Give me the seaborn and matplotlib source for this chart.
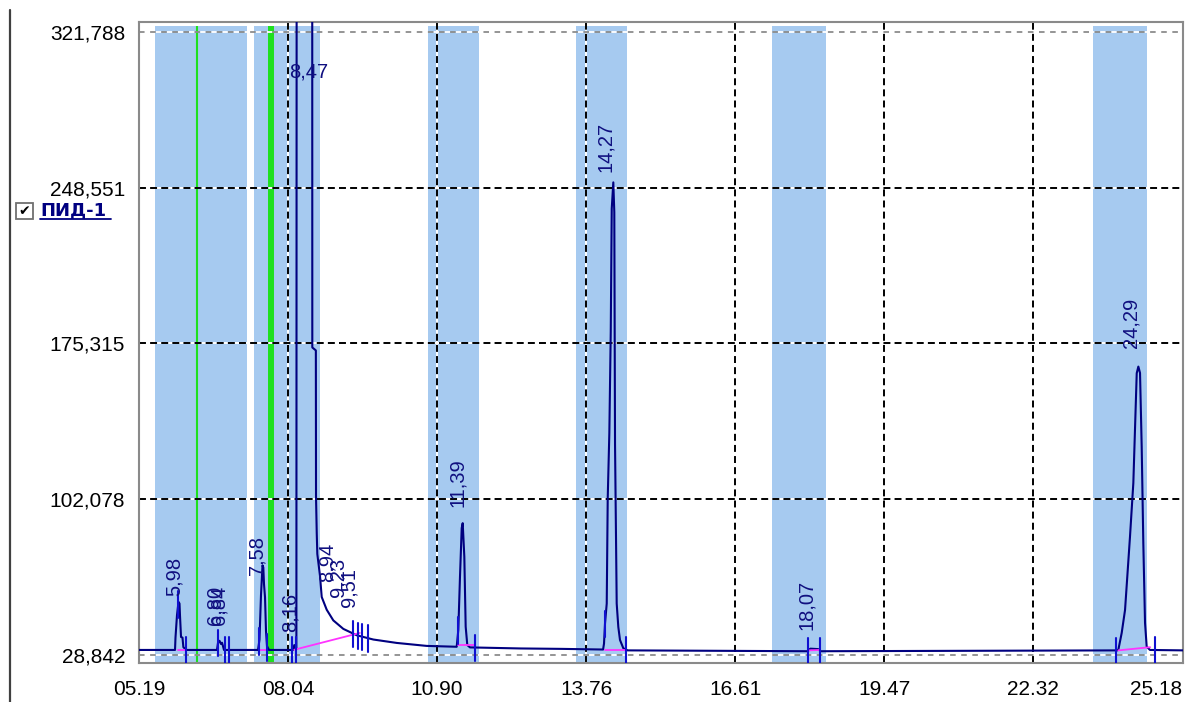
import numpy as np
import pandas as pd
import matplotlib
matplotlib.use("Agg")
import matplotlib.pyplot as plt
from matplotlib.lines import Line2D
from matplotlib.patches import Rectangle
import seaborn as sns

# chromatogram trace (retention time, signal)
trace_time = [5.19, 5.88, 5.889, 5.918, 5.947, 5.966, 5.976, 5.995, 6.023, 6.04, 6.071, 6.10,
              6.684, 6.703, 6.732, 6.761, 6.780, 6.799, 6.818, 6.84,
              7.470, 7.498, 7.527, 7.556, 7.571, 7.585, 7.604, 7.623, 7.642, 7.680,
              8.14, 8.165, 8.19, 8.205, 8.211, 8.36, 8.508, 8.510, 8.578, 8.581, 8.595,
              8.606, 8.657, 8.690, 8.786, 8.912, 9.104, 9.361, 9.679, 10.127, 10.701,
              11.276, 11.307, 11.339, 11.372, 11.391, 11.422, 11.448, 11.479, 11.531,
              12.5, 13.3, 14.08, 14.098, 14.117, 14.150, 14.169, 14.200, 14.227, 14.246, 14.276,
              14.295, 14.309, 14.341, 14.372, 14.404, 14.468, 14.55,
              18.00, 18.05, 18.20, 18.25, 23.93, 23.950, 24.015, 24.079, 24.174, 24.238,
              24.303, 24.334, 24.366, 24.398, 24.429, 24.462, 24.494, 24.557, 25.19]
trace_signal = [31.2, 31.2, 37.0, 47.6, 53.8, 53.0, 47.0, 37.3, 37.0, 32.5, 31.8, 31.2,
                31.2, 34.5, 35.5, 34.0, 34.6, 33.0, 31.2, 31.2,
                31.2, 36.0, 57.0, 71.0, 70.0, 62.0, 56.0, 40.0, 33.0, 31.2,
                31.2, 33.5, 31.5, 31.5, 420.0, 600.0, 420.0, 173.4, 172.0, 103.2, 86.0,
                76.3, 66.1, 56.1, 50.1, 45.1, 41.1, 38.1, 36.1, 34.5, 33.1,
                32.7, 40.6, 65.6, 88.5, 90.8, 75.0, 42.1, 33.5, 32.4,
                31.9, 31.7, 31.4, 34.2, 43.6, 53.0, 102.4, 133.2, 180.7, 238.6, 251.0,
                237.0, 128.0, 53.0, 42.0, 35.9, 32.0, 31.0,
                30.6, 31.8, 31.6, 30.6, 31.0, 31.2, 39.2, 50.0, 84.5, 109.7,
                161.3, 164.4, 161.4, 126.8, 81.5, 43.9, 32.7, 31.2, 31.0]

# peak labels
peak_labels = ["5,98", "6,80", "6,84", "7,58", "8,16", "8,94", "9,23", "9,51",
               "11,39", "14,27", "18,07", "24,29"]
label_time = [5.86, 6.65, 6.72, 7.45, 8.083, 8.791, 9.002, 9.213,
              11.282, 14.136, 17.968, 24.194]
label_level = [56.6, 42.9, 42.9, 66.5, 39.7, 63.2, 56.1, 51.4,
               98.4, 255.9, 40.6, 173.2]
offscale_label = "8,47"
offscale_time = 8.064
offscale_level = 302.9

# peak boundary markers
marker_time = [5.943, 6.085, 6.709, 6.837, 6.914, 7.495, 7.648, 8.115, 8.198,
               9.29, 9.39, 9.46, 9.58, 11.307, 11.627, 14.117, 14.514,
               18.012, 18.236, 23.906, 24.654]

# integration baselines (pink)
base_t0 = [5.94, 7.50, 8.165, 11.31, 14.12, 18.01, 23.95]
base_y0 = [31.3, 31.3, 31.3, 33.5, 31.4, 31.0, 31.0]
base_t1 = [6.08, 7.65, 9.42, 11.63, 14.51, 18.24, 24.56]
base_y1 = [31.3, 31.3, 39.2, 33.5, 31.4, 31.2, 32.5]

# time windows (blue) and events (green)
window_start = [5.497, 7.393, 10.726, 13.562, 17.316, 23.466]
window_end = [7.259, 8.657, 11.703, 14.539, 18.350, 24.500]
window_top = 324.5
event_time = [6.301, 7.719]
event_width = [1.5, 4.3]

x_ticks = [5.19, 8.045, 10.90, 13.755, 16.61, 19.465, 22.32, 25.175]
x_tick_labels = ["05.19", "08.04", "10.90", "13.76", "16.61", "19.47", "22.32", "25.18"]
y_ticks = [28.842, 102.078, 175.315, 248.551, 321.788]
y_tick_labels = ["28,842", "102,078", "175,315", "248,551", "321,788"]

x_lim = (5.19, 25.19)
y_lim = (25.08, 326.4)

sns.set_style("white")
plt.rcParams["font.family"] = ["Liberation Sans", "DejaVu Sans"]
plt.rcParams["lines.scale_dashes"] = False

fig = plt.figure(figsize=(11.86, 7.02), dpi=100)
ax = fig.add_axes([0.1172, 0.0556, 0.8803, 0.9131])
ax.set_xlim(*x_lim)
ax.set_ylim(*y_lim)

# blue windows
for x0, x1 in zip(window_start, window_end):
    ax.fill_between([x0, x1], y_lim[0], window_top, color="#a6caf0", lw=0, zorder=0.5)

# green event lines
for xt, w in zip(event_time, event_width):
    ax.plot([xt, xt], [y_lim[0], window_top], color="#1ee01e", lw=w, zorder=1,
            solid_capstyle="butt")

# grid
for xv in x_ticks[1:-1]:
    ax.axvline(xv, color="white", lw=1.4, zorder=2)
    ax.axvline(xv, color="black", lw=1.4, ls=(0, (5, 3)), zorder=2.1)
for yv in y_ticks[1:-1]:
    ax.axhline(yv, color="white", lw=1.4, zorder=2)
    ax.axhline(yv, color="black", lw=1.4, ls=(0, (5, 3)), zorder=2.1)
for yv in [y_ticks[0], y_ticks[-1]]:
    ax.axhline(yv, color="white", lw=1.3, ls=(4, (4, 4)), zorder=2)
    ax.axhline(yv, color="#8c8c8c", lw=1.3, ls=(0, (4, 4)), zorder=2.1)

# integration baselines
for t0, y0, t1, y1 in zip(base_t0, base_y0, base_t1, base_y1):
    ax.plot([t0, t1], [y0, y1], color="#ff33ff", lw=1.3, zorder=3.2)

# trace
df = pd.DataFrame({"time": trace_time, "signal": trace_signal})
sns.lineplot(data=df, x="time", y="signal", ax=ax, color="#000080", lw=1.5,
             estimator=None, sort=False, zorder=3)

# boundary markers centred on the trace
for mt in marker_time:
    yc = np.interp(mt, trace_time, trace_signal)
    ax.plot([mt, mt], [yc - 6.5, yc + 6.0], color="#1010d0", lw=1.5, zorder=3.5)

# labels
for lab, lt, lv in zip(peak_labels, label_time, label_level):
    ax.text(lt, lv, lab, rotation=90, ha="center", va="bottom", fontsize=14.5,
            color="#101080", zorder=4)
ax.text(offscale_time, offscale_level, offscale_label, ha="left", va="center",
        fontsize=14.5, color="#101080", zorder=4)

# axes look
ax.set_xticks(x_ticks)
ax.set_xticklabels(x_tick_labels)
ax.set_yticks(y_ticks)
ax.set_yticklabels(y_tick_labels)
ax.set_xticks(np.arange(x_ticks[0], x_lim[1], (x_ticks[1] - x_ticks[0]) / 6), minor=True)
ax.set_yticks(np.arange(y_ticks[0], y_lim[1], (y_ticks[1] - y_ticks[0]) / 6), minor=True)
ax.tick_params(axis="both", which="major", direction="out", length=7, width=1.1,
               color="black", labelsize=15, labelcolor="black")
ax.tick_params(axis="both", which="minor", direction="out", length=4, width=1.1,
               color="black")
ax.tick_params(axis="x", which="major", pad=5)
ax.tick_params(axis="y", which="major", pad=3)
ax.get_xticklabels()[-1].set_horizontalalignment("right")
ax.set_xlabel("")
ax.set_ylabel("")
for side in ["top", "bottom", "left", "right"]:
    ax.spines[side].set_visible(True)
    ax.spines[side].set_color("#8a8a8a")
    ax.spines[side].set_linewidth(1.5)

# left panel with the channel checkbox
W, H = 1186.0, 702.0
fig.add_artist(Line2D([10 / W, 10 / W], [1 - 10 / H, 0], color="#404040", lw=1.6))
fig.add_artist(Rectangle((16 / W, 1 - 219 / H), 17 / W, 16 / H, facecolor="white",
                         edgecolor="#707070", lw=1.3))
fig.text(24.5 / W, 1 - 211 / H, "\u2714", ha="center", va="center", fontsize=10,
         color="black", family=["DejaVu Sans"])
fig.text(40 / W, 1 - 210 / H, "ПИД-1", ha="left", va="center", fontsize=13,
         fontweight="bold", color="#000080", family=["DejaVu Sans"])
fig.add_artist(Line2D([40 / W, 111 / W], [1 - 219 / H, 1 - 219 / H], color="#000080", lw=1.3))

fig.savefig("out.png", dpi=100)
